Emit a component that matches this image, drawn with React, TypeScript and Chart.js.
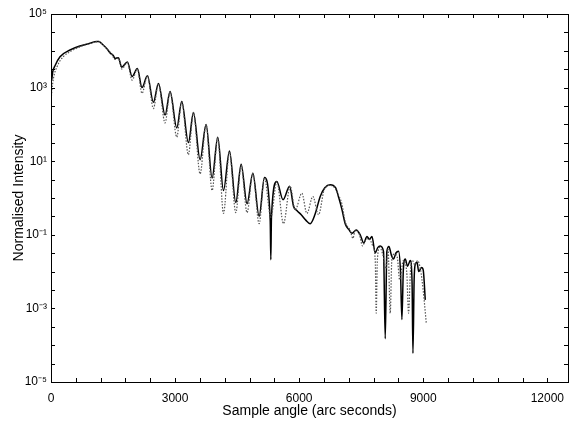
import React, { useEffect, useRef } from "react";
import { Chart, registerables } from "chart.js";

Chart.register(...registerables);

// Solid curve (measured)
const measuredAngle = [
  0, 12, 40, 100, 218, 460, 702, 944, 1105, 1160, 1230, 1347, 1440, 1500, 1550, 1629, 1710, 1847, 1960, 2089,
  2200, 2331, 2476, 2597, 2758, 2879, 3041, 3161, 3322, 3444, 3605, 3750, 3895, 4032, 4170, 4315, 4468, 4597,
  4740, 4880, 5032, 5161, 5300, 5315, 5330, 5460, 5610, 5770, 5863, 5950, 6050, 6160, 6267, 6380, 6509, 6620,
  6750, 6880, 6960, 7032, 7113, 7200, 7274, 7379, 7476, 7560, 7640, 7700, 7760, 7839, 7900, 7960, 8040, 8081,
  8120, 8170, 8230, 8282, 8340, 8403, 8450, 8484, 8520, 8565, 8620, 8686, 8730, 8751, 8780, 8810, 8850, 8890,
  8960, 9000, 9049,
];
const measuredIntensity = [
  9e4, 1.5e3, 2.6e3, 4.0e3, 6.9e3, 1.05e4, 1.35e4, 1.6e4, 1.8e4, 1.8e4, 1.55e4, 1.15e4, 8.5e3, 7.6e3, 6.2e3,
  6.5e3, 3.6e3, 5.0e3, 2.0e3, 3.3e3, 1.0e3, 2.1e3, 4.0e2, 1.3e3, 1.8e2, 7.8e2, 80, 4.2e2, 32, 2.1e2, 11, 1.0e2,
  3.5, 45, 1.6, 19, 0.75, 8.3, 0.7, 4.7, 0.32, 3.6, 0.25, 0.021, 0.3, 2.8, 0.9, 2.1, 0.6, 0.45, 0.35, 0.25, 0.2,
  0.35, 1.1, 1.9, 2.3, 1.9, 1.0, 0.5, 0.2, 0.14, 0.11, 0.135, 0.1, 0.06, 0.09, 0.075, 0.09, 0.032, 0.045, 0.05,
  0.035, 1.5e-4, 0.035, 0.048, 0.028, 0.022, 0.032, 0.036, 0.01, 5e-4, 0.012, 0.022, 0.014, 0.02, 0.005, 6e-5,
  0.006, 0.016, 0.018, 0.01, 0.013, 0.011, 1.7e-3,
];

// Dotted curve (simulated)
const simulatedAngle = [
  0, 20, 60, 150, 300, 500, 750, 950, 1105, 1180, 1260, 1380, 1470, 1550, 1629, 1710, 1847, 1960, 2089, 2200,
  2331, 2476, 2597, 2758, 2879, 3041, 3161, 3322, 3444, 3605, 3750, 3895, 4032, 4170, 4315, 4468, 4597, 4740,
  4880, 5032, 5161, 5315, 5460, 5621, 5783, 5904, 6065, 6187, 6331, 6468, 6600, 6710, 6820, 6950, 7032, 7113,
  7235, 7300, 7355, 7460, 7530, 7600, 7680, 7780, 7840, 7863, 7890, 7950, 8020, 8100, 8150, 8202, 8240, 8300,
  8370, 8430, 8520, 8600, 8645, 8690, 8740, 8800, 8860, 8930, 9000, 9073,
];
const simulatedIntensity = [
  4e2, 8e2, 1.8e3, 3.8e3, 7.0e3, 1.0e4, 1.35e4, 1.6e4, 1.75e4, 1.75e4, 1.45e4, 1.05e4, 8.0e3, 5.8e3, 6.3e3,
  3.2e3, 4.8e3, 1.6e3, 3.2e3, 7.0e2, 2.1e3, 2.7e2, 1.3e3, 1.1e2, 7.6e2, 45, 4.2e2, 15, 2.1e2, 4.5, 1.0e2, 1.6,
  45, 0.38, 18, 0.4, 7.5, 0.4, 4.7, 0.2, 3.6, 0.3, 2.8, 0.2, 2.1, 0.47, 1.35, 0.38, 1.1, 0.35, 1.6, 2.2, 2.1,
  1.2, 0.7, 0.23, 0.13, 0.08, 0.13, 0.1, 0.05, 0.07, 0.08, 0.05, 0.02, 7.4e-4, 0.02, 0.045, 0.03, 0.012, 0.04,
  7.4e-4, 0.02, 0.03, 0.025, 0.006, 0.02, 0.01, 7.4e-4, 0.01, 0.02, 0.015, 0.02, 0.012, 0.003, 4e-4,
];

const xTickLabels = [0, 3000, 6000, 9000, 12000];
const yDecades = [-5, -4, -3, -2, -1, 0, 1, 2, 3, 4, 5];
const yLabelledExponents = [-5, -3, -1, 1, 3, 5];

const SUP: Record<string, string> = {
  "-": "\u207B", "0": "\u2070", "1": "\u00B9", "2": "\u00B2", "3": "\u00B3",
  "4": "\u2074", "5": "\u2075", "6": "\u2076", "7": "\u2077", "8": "\u2078", "9": "\u2079",
};
const sup = (n: number) => String(n).split("").map((c) => SUP[c] || c).join("");

const FONT = "'Liberation Sans', Arial, sans-serif";

const boxPlugin = {
  id: "matlabBox",
  afterDraw(chart: any) {
    const { ctx, chartArea } = chart;
    const { left, right, top, bottom } = chartArea;
    const xs = chart.scales.x;
    const ys = chart.scales.y;
    ctx.save();
    ctx.strokeStyle = "#000";
    ctx.lineWidth = 1;
    ctx.strokeRect(Math.round(left) + 0.5, Math.round(top) + 0.5, Math.round(right - left), Math.round(bottom - top));
    ctx.beginPath();
    const tl = 4;
    for (let v = 600; v < 12000 + 1; v += 600) {
      const px = Math.round(xs.getPixelForValue(v)) + 0.5;
      ctx.moveTo(px, bottom);
      ctx.lineTo(px, bottom - tl);
      ctx.moveTo(px, top);
      ctx.lineTo(px, top + tl);
    }
    for (let e = -4.5; e < 5; e += 0.5) {
      const py = Math.round(ys.getPixelForValue(Math.pow(10, e))) + 0.5;
      ctx.moveTo(left, py);
      ctx.lineTo(left + tl, py);
      ctx.moveTo(right, py);
      ctx.lineTo(right - tl, py);
    }
    ctx.stroke();
    ctx.restore();
  },
};

export default function App() {
  const ref = useRef<HTMLCanvasElement | null>(null);
  useEffect(() => {
    if (!ref.current) return;
    const measured = measuredAngle.map((x, i) => ({ x, y: measuredIntensity[i] }));
    const simulated = simulatedAngle.map((x, i) => ({ x, y: simulatedIntensity[i] }));
    const chart = new Chart(ref.current, {
      type: "line",
      data: {
        datasets: [
          {
            label: "Simulated",
            data: simulated,
            borderColor: "#555",
            borderWidth: 1.2,
            borderDash: [1.5, 1.5],
            pointRadius: 0,
            cubicInterpolationMode: "monotone",
            fill: false,
          },
          {
            label: "Measured",
            data: measured,
            borderColor: "#000",
            borderWidth: 1.5,
            pointRadius: 0,
            cubicInterpolationMode: "monotone",
            fill: false,
          },
        ],
      },
      options: {
        animation: false,
        responsive: false,
        devicePixelRatio: 1,
        layout: { padding: { top: 14, right: 12, left: 0, bottom: 0 } },
        plugins: { legend: { display: false }, tooltip: { enabled: false } },
        scales: {
          x: {
            type: "linear",
            min: 0,
            max: 12500,
            grid: { display: false, drawTicks: false },
            border: { display: false },
            afterBuildTicks: (scale: any) => {
              scale.ticks = xTickLabels.map((v) => ({ value: v }));
            },
            afterFit: (scale: any) => {
              scale.height = 40;
            },
            ticks: {
              padding: 9,
              color: "#000",
              maxRotation: 0,
              autoSkip: false,
              font: { family: FONT, size: 12 },
              callback: (v: any) => String(v),
            },
            title: {
              display: true,
              text: "Sample angle (arc seconds)",
              color: "#000",
              font: { family: FONT, size: 14 },
              padding: { top: 0, bottom: 2 },
            },
          },
          y: {
            type: "logarithmic",
            min: 1e-5,
            max: 1e5,
            grid: { display: false, drawTicks: false },
            border: { display: false },
            afterBuildTicks: (scale: any) => {
              scale.ticks = yDecades.map((e) => ({ value: Math.pow(10, e) }));
            },
            afterFit: (scale: any) => {
              scale.width = 51;
            },
            ticks: {
              padding: 4,
              color: "#000",
              autoSkip: false,
              font: { family: FONT, size: 12 },
              callback: (v: any) => {
                const e = Math.round(Math.log10(Number(v)));
                return yLabelledExponents.includes(e) ? "10" + sup(e) : "";
              },
            },
            title: {
              display: true,
              text: "Normalised Intensity",
              color: "#000",
              font: { family: FONT, size: 14 },
              padding: { top: 11, bottom: 0 },
            },
          },
        },
      },
      plugins: [boxPlugin],
    });
    return () => chart.destroy();
  }, []);
  return (
    <div style={{ position: "fixed", left: 0, top: 0, width: 580, height: 422, background: "#fff" }}>
      <canvas ref={ref} width={580} height={422} style={{ display: "block" }} />
    </div>
  );
}
